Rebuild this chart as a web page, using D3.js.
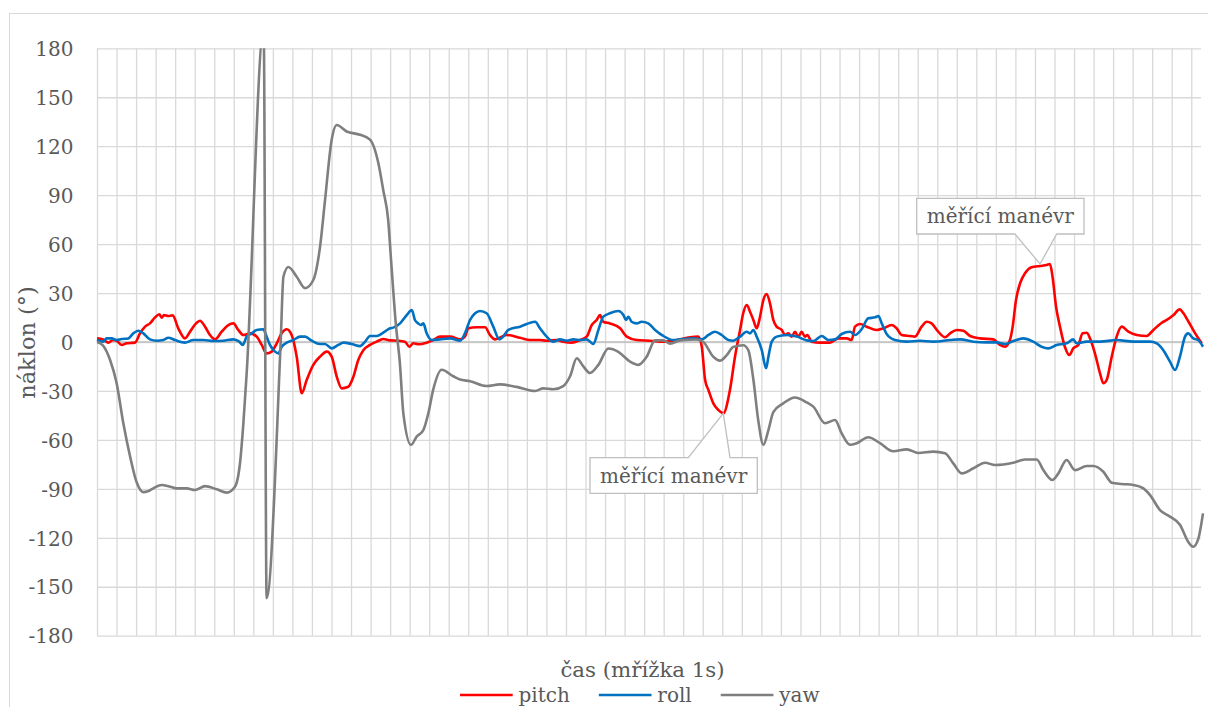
<!DOCTYPE html>
<html>
<head>
<meta charset="utf-8">
<script src="https://cdn.jsdelivr.net/npm/d3@7"></script>
<style>
    body { margin: 0; background: #fff; }
    text { font-family: 'DejaVu Serif', serif; fill: #595959; }
</style>
</head>
<body>
<svg id="chart"></svg>
<script>
// series meta
const seriesNames = ['pitch', 'roll', 'yaw']
const seriesColors = ['#ff0000', '#0070c0', '#7f7f7f']
const yTicks = [180, 150, 120, 90, 60, 30, 0, -30, -60, -90, -120, -150, -180]
const secondsGrid = d3.range(0, 57)   // mřížka 1s

// pitch (t in s, value in deg)
const pitchT = [0, 0.32, 0.58, 0.83, 1.0, 1.26, 1.52, 1.94, 2.2, 2.46, 2.71, 2.97, 3.19, 3.31, 3.43, 3.65, 3.87, 4.16, 4.5, 4.76,
    5.07, 5.27, 5.53, 5.78, 6.04, 6.38, 6.72, 6.98, 7.23, 7.49, 7.83, 8.17, 8.43, 8.68, 8.94, 9.2, 9.45, 9.71, 9.96, 10.22,
    10.48, 10.73, 11.07, 11.41, 11.76, 12.01, 12.27, 12.52, 12.86, 13.12, 13.37, 13.63, 13.97, 14.31, 14.65, 15.0, 15.42, 15.76, 15.98, 16.19,
    16.45, 16.87, 17.21, 17.55, 18.07, 18.58, 18.83, 19.0, 19.43, 19.86, 20.11, 20.37, 20.97, 21.65, 22.16, 22.67, 23.01, 23.53, 23.86, 24.29,
    24.72, 25.06, 25.32, 25.57, 25.74, 25.91, 26.25, 26.77, 27.11, 27.62, 28.3, 28.98, 29.67, 30.35, 30.77, 30.95, 31.12, 31.29, 31.54, 31.8,
    32.05, 32.39, 32.65, 32.91, 33.07, 33.25, 33.42, 33.59, 33.76, 33.93, 34.1, 34.27, 34.44, 34.61, 34.78, 35.04, 35.21, 35.38, 35.55, 35.72,
    35.89, 36.06, 36.23, 36.35, 36.57, 37.0, 37.51, 37.94, 38.37, 38.62, 38.79, 39.05, 39.39, 39.9, 40.24, 40.67, 40.92, 41.18, 41.61, 41.86,
    42.2, 42.46, 42.71, 43.05, 43.4, 43.66, 44.0, 44.34, 44.68, 45.19, 45.87, 46.21, 46.47, 46.72, 46.86, 47.03, 47.24, 47.49, 47.83, 48.26,
    48.6, 48.77, 48.9, 49.08, 49.28, 49.53, 49.76, 49.96, 50.22, 50.44, 50.65, 50.85, 51.07, 51.33, 51.5, 51.67, 51.93, 52.18, 52.44, 52.78,
    53.21, 53.72, 54.06, 54.49, 54.75, 55.09, 55.4, 55.6, 55.86, 56.2, 56.54]
const pitchV = [2.2, 1.6, -0.4, 1.2, 0.8, -1.8, -0.8, -0.4, 5.3, 9.4, 11.4, 15.1, 17, 14.9, 16.5, 15.9, 16.3, 8.4, 2.2, 6.3,
    11.4, 13, 9.4, 4.3, 1.6, 6.3, 10.4, 11.4, 7.4, 4.3, 5.3, 3.3, -1.8, -7, -5.9, -0.8, 5.3, 7.8, 4.3, -9,
    -31.4, -23.3, -14, -9, -5.9, -9, -21.3, -28.4, -27.4, -21.3, -11, -5, -1.8, 0.2, 1.8, 1.0, 0.8, 0.2, -2.9, -0.8,
    -1.4, -0.4, 1.2, 3.3, 3.3, 1.6, 3.3, 8.4, 9, 9, 4.3, 1.6, 4.3, 2.6, 1.2, 1.2, 0.8, 1.2, 0.2, -0.4,
    1.2, 3.3, 10.4, 13.5, 16.5, 12.4, 11.4, 8.4, 3.3, 1.2, 0.8, 0.2, 1.2, 2.9, 3.3, -2.9, -23.3, -29.4, -37.6, -41.7,
    -43.7, -29.4, -9, 7.4, 17.6, 22.7, 18.6, 13.5, 8.4, 15.5, 25.7, 29.4, 23.7, 13.5, 9.4, 7.4, 4.3, 5.3, 3.3, 6.3,
    3.3, 6.3, 3.3, 4.3, 0.2, -0.4, -0.4, 2.2, 2.2, 1.2, 9.4, 11, 9.4, 7.4, 8.4, 10.4, 8.4, 4.3, 3.7, 3.3,
    9.4, 12.4, 11.4, 6.3, 2.9, 5.3, 7.4, 6.9, 3.7, 2.2, 1.6, -1.8, -2.9, 1.2, 9.4, 25.7, 36, 42.1, 45.8, 46.6,
    47.2, 47.8, 40, 21.6, 9.4, -2.9, -8, -3.9, -1.8, 5.3, 5.7, 1.2, -7, -19.2, -25.3, -23.3, -9, 3.3, 9.4, 6.3,
    4.3, 3.7, 7.4, 11.8, 13.5, 16.5, 20, 17.6, 12.4, 5.3, -0.8]

// roll
const rollT = [0, 0.32, 0.49, 0.75, 1.0, 1.26, 1.6, 1.86, 2.11, 2.37, 2.71, 3.06, 3.39, 3.65, 3.99, 4.5, 4.93, 5.44, 5.95, 6.46,
    6.98, 7.28, 7.46, 7.66, 7.92, 8.17, 8.51, 8.68, 8.85, 9.11, 9.28, 9.45, 9.71, 10.05, 10.39, 10.65, 10.99, 11.41, 11.67, 12.01,
    12.35, 12.61, 13.03, 13.46, 13.72, 13.97, 14.31, 14.65, 15.0, 15.16, 15.51, 15.85, 16.11, 16.27, 16.44, 16.57, 16.7, 16.87, 17.13, 17.55,
    18.07, 18.58, 18.83, 19.09, 19.35, 19.6, 19.94, 20.28, 20.59, 20.79, 21.05, 21.65, 22.42, 22.67, 23.01, 23.35, 23.69, 24.04, 24.38, 24.72,
    25.06, 25.4, 25.66, 25.91, 26.25, 26.68, 26.94, 27.07, 27.19, 27.36, 27.62, 27.87, 28.21, 28.56, 28.98, 29.5, 29.84, 30.52, 30.95, 31.29,
    31.63, 31.97, 32.31, 32.56, 32.91, 33.25, 33.42, 33.59, 33.76, 34.02, 34.24, 34.36, 34.53, 34.78, 35.3, 35.81, 36.32, 36.66, 37.09, 37.43,
    37.77, 38.11, 38.54, 38.79, 39.13, 39.47, 39.82, 39.99, 40.16, 40.41, 40.84, 41.44, 42.12, 42.8, 43.66, 44.17, 44.85, 45.53, 46.04, 46.47,
    46.89, 47.4, 47.91, 48.34, 48.68, 49.11, 49.62, 49.96, 50.13, 50.65, 51.33, 52.18, 53.04, 53.89, 54.23, 54.57, 54.91, 55.17, 55.42, 55.68,
    55.84, 56.1, 56.35, 56.6]
const rollV = [1.2, 0.2, 2.2, 2.2, 1.2, 1.8, 2.2, 5.3, 6.9, 5.3, 1.6, 0.8, 1.2, 2.6, 1.2, -0.4, 1.2, 1.2, 0.6, 0.8,
    1.6, 0.2, -1.8, 3.3, 5.3, 7.4, 7.8, 3.3, -1.8, -5.9, -7, -2.9, -0.4, 1.2, 3.3, 3.3, 0.8, -1.2, -1.2, -3.9,
    -1.8, -0.4, -1.2, -2.5, 0.2, 3.7, 3.7, 5.7, 8.4, 8.8, 11.4, 16.5, 19.6, 13.5, 11.4, 10.4, 11.4, 5.3, 1.2, 1.6,
    2.2, 0.8, 5.3, 13.5, 17.6, 19, 17.6, 9.4, 1.6, 3.3, 7.4, 9.4, 12.4, 8.4, 3.3, 0.2, 1.6, 0.8, 1.6, 1.2,
    1.6, -1.2, 7.4, 15.5, 17.6, 19, 16.5, 13.5, 15.5, 12.4, 11.4, 12.4, 11.4, 7.4, 3.7, 1.2, 1.6, 2.2, 1.6, 4.3,
    6.3, 4.3, 1.2, 0.8, 3.3, 6.3, 5.3, 7.4, 3.3, -5, -16.1, -9, 0.2, 3.3, 4.3, 3.3, 1.0, 0.6, 3.7, 1.2,
    1.6, 4.9, 6.3, 4.3, 7.8, 14.5, 15.1, 15.9, 11.4, 4.9, 1.2, 0.2, 0.8, 0.2, 1.2, 1.6, 0.2, -0.2, -0.2, -1.2,
    0.6, 2.2, 0.2, -2.9, -3.9, -1.8, -0.8, 1.6, -0.8, 0.2, 0.2, 1.2, 0.2, 0.2, -0.8, -5, -12, -17.2, -9, 3.3,
    5.3, 2.2, 1.2, -2.9]

// yaw
const yawT = [0, 0.3, 0.67, 1.0, 1.35, 1.69, 2.03, 2.37, 2.6, 2.88, 3.31, 3.7, 4.08, 4.59, 5.01, 5.53, 6.13, 6.64, 7.06, 7.32,
    7.49, 7.66, 8.53, 8.68, 9.4, 9.54, 9.79, 10.22, 10.65, 11.07, 11.41, 11.67, 12.01, 12.27, 12.78, 13.46, 13.97, 14.4, 14.65,
    14.9, 15.05, 15.3, 15.5, 15.68, 16.07, 16.36, 16.7, 16.95, 17.21, 17.64, 18.23, 18.58, 19.09, 19.94, 20.62, 21.48, 22.42, 22.84, 23.35,
    23.86, 24.21, 24.55, 24.89, 25.23, 25.66, 26.17, 26.68, 27.28, 27.7, 28.13, 28.56, 28.98, 29.33, 29.84, 30.69, 31.03, 31.54, 31.88, 32.23,
    32.56, 33.07, 33.33, 33.59, 33.84, 34.1, 34.36, 34.61, 35.12, 35.72, 36.32, 36.66, 37.26, 37.77, 38.11, 38.54, 38.88, 39.47, 40.07, 40.75,
    41.44, 42.03, 42.8, 43.4, 43.82, 44.25, 44.85, 45.45, 45.96, 46.89, 47.49, 48.09, 48.43, 48.89, 49.2, 49.62, 50.05, 50.65, 50.99, 51.5,
    51.93, 52.44, 53.04, 53.55, 53.89, 54.4, 54.91, 55.42, 55.84, 56.1, 56.35, 56.6]
const yawV = [0, -2, -11, -25, -50, -70, -86, -92, -91.5, -89.7, -87.6, -88.5, -89.7, -89.7, -90.7, -88.3, -90.3, -92.3, -88.7, -74,
    -50, -19, 192, -157, 0, 40, 46, 40, 33, 38, 58, 87, 124, 133, 129, 127, 124, 109.5, 93,
    75, 50, 10, -13, -44, -63, -58, -54, -44, -29, -17, -21, -23, -24, -27, -26, -27.5, -30, -28.4, -29,
    -27, -21, -10, -15, -19, -14, -4, -6, -12, -14, -9, 1, 1, -1, 1, 1.5, 0, -9, -11.4, -8,
    -3, -2, -5, -23, -48, -63, -54, -43, -37.6, -34, -37, -39.6, -49.8, -47.8, -56, -63, -62, -58.4, -62, -67,
    -65.8, -68, -67.2, -68.2, -74.4, -80.5, -77.4, -74, -75.4, -74, -72, -72, -78.5, -84.6, -80.5, -72.3, -78.5, -76, -76, -79.5,
    -86.2, -87, -87.6, -89.7, -93.8, -103, -107, -112, -122.4, -125.5, -121, -105]

// callout texts and the pitch point (time) they mark
const calloutText = ['měřící manévr', 'měřící manévr']
const calloutTime = [32.05, 48.26]

class LineChart {
    constructor(_config) {
        this.config = {
            parentElement: _config.parentElement,
            containerWidth: 1208,
            containerHeight: 707,
            plot: {left: 97, right: 1203, top: 48.3, bottom: 635.7},
        }
        this.data = seriesNames.map((name, i) => {
            const ts = [pitchT, rollT, yawT][i]
            const vs = [pitchV, rollV, yawV][i]
            return {name: name, color: seriesColors[i], values: ts.map((t, j) => ({t: t, v: vs[j]}))}
        })
        this.initVis()
    }

    initVis() {
        let vis = this
        const p = vis.config.plot

        vis.svg = d3.select(vis.config.parentElement)
            .attr('width', vis.config.containerWidth)
            .attr('height', vis.config.containerHeight)

        // chart frame
        vis.svg.append('rect')
            .attr('x', 9.5).attr('y', 13.5)
            .attr('width', 1300).attr('height', 800)
            .attr('fill', '#fff')
            .attr('stroke', '#d9d9d9')

        vis.xScale = d3.scaleLinear().domain([0, 56.6]).range([p.left, p.right])
        vis.yScale = d3.scaleLinear().domain([-180, 180]).range([p.bottom, p.top])

        vis.renderGrid()
        vis.renderVis()
        vis.renderCallouts()
        vis.renderLabels()
    }

    renderGrid() {
        let vis = this
        const p = vis.config.plot

        const yGrid = vis.svg.append('g')
            .attr('transform', `translate(${p.left},0)`)
            .call(d3.axisLeft(vis.yScale).tickValues(yTicks).tickSize(-(1201 - p.left)).tickFormat(''))
        yGrid.select('.domain').remove()
        yGrid.selectAll('line')
            .attr('stroke', '#d9d9d9')
            .attr('stroke-width', 1.3)

        const xGrid = vis.svg.append('g')
            .attr('transform', `translate(0,${p.bottom})`)
            .call(d3.axisBottom(vis.xScale).tickValues(secondsGrid).tickSize(-(p.bottom - p.top)).tickFormat(''))
        xGrid.select('.domain').remove()
        xGrid.selectAll('line')
            .attr('stroke', '#d9d9d9')
            .attr('stroke-width', 1.3)

        // zero line (category axis) over the verticals
        vis.svg.append('line')
            .attr('x1', p.left).attr('x2', 1201)
            .attr('y1', vis.yScale(0)).attr('y2', vis.yScale(0))
            .attr('stroke', '#bfbfbf').attr('stroke-width', 1.3)

        // tick labels, plain hyphen for negatives
        const yLabels = vis.svg.append('g')
            .attr('transform', `translate(${p.left},0)`)
            .call(d3.axisLeft(vis.yScale).tickValues(yTicks).tickSize(0).tickPadding(23.5)
                .tickFormat(d => String(d)))
        yLabels.select('.domain').remove()
        yLabels.selectAll('text')
            .attr('fill', '#595959')
            .style('font-family', "'DejaVu Serif', serif")
            .style('font-size', '20px')
            .attr('dy', '0.36em')
    }

    renderVis() {
        let vis = this
        const p = vis.config.plot

        vis.svg.append('clipPath').attr('id', 'plot-clip')
            .append('rect')
            .attr('x', p.left - 3).attr('y', p.top)
            .attr('width', p.right - p.left + 6).attr('height', p.bottom - p.top)

        vis.line = d3.line()
            .x(d => vis.xScale(d.t))
            .y(d => vis.yScale(d.v))
            .curve(d3.curveMonotoneX)

        vis.svg.append('g')
            .attr('clip-path', 'url(#plot-clip)')
            .selectAll('.series')
            .data(vis.data)
            .join('path')
            .attr('class', 'series')
            .attr('fill', 'none')
            .attr('stroke', d => d.color)
            .attr('stroke-width', 2.6)
            .attr('stroke-linejoin', 'round')
            .attr('d', d => vis.line(d.values))
    }

    renderCallouts() {
        let vis = this
        const pitch = vis.data[0].values
        // box outline with an opening (g0..g1) for the pointer
        const boxes = [
            {x0: 590, y0: 457.7, x1: 757.3, y1: 493.3, g0: 688.3, g1: 730, side: 'top'},
            {x0: 916.7, y0: 198.3, x1: 1084, y1: 234, g0: 1015, g1: 1056.7, side: 'bottom'},
        ]

        boxes.forEach((b, i) => {
            const pt = pitch.find(d => d.t === calloutTime[i])
            const tx = vis.xScale(pt.t)
            const ty = vis.yScale(pt.v) + (b.side === 'top' ? 0 : -2)
            let path
            if (b.side === 'top') {
                path = `M${b.x0},${b.y0} L${b.g0},${b.y0} L${tx},${ty} L${b.g1},${b.y0} L${b.x1},${b.y0} L${b.x1},${b.y1} L${b.x0},${b.y1} Z`
            } else {
                path = `M${b.x0},${b.y0} L${b.x1},${b.y0} L${b.x1},${b.y1} L${b.g1},${b.y1} L${tx},${ty} L${b.g0},${b.y1} L${b.x0},${b.y1} Z`
            }
            vis.svg.append('path')
                .attr('d', path)
                .attr('fill', '#fff')
                .attr('stroke', '#bfbfbf')
                .attr('stroke-width', 1.3)
            vis.svg.append('text')
                .text(calloutText[i])
                .attr('x', (b.x0 + b.x1) / 2)
                .attr('y', (b.y0 + b.y1) / 2)
                .attr('dy', '0.35em')
                .style('text-anchor', 'middle')
                .style('font-size', '20px')
        })
    }

    renderLabels() {
        let vis = this

        vis.svg.append('text')
            .text('náklon (°)')
            .attr('transform', 'translate(34.5,342.5) rotate(-90)')
            .style('text-anchor', 'middle')
            .style('font-size', '22.5px')

        vis.svg.append('text')
            .text('čas (mřížka 1s)')
            .attr('x', 642.5)
            .attr('y', 676.5)
            .style('text-anchor', 'middle')
            .style('font-size', '21.3px')

        // legend
        const legend = vis.svg.append('g').attr('class', 'legend')
        let x = 460
        vis.data.forEach(d => {
            legend.append('line')
                .attr('x1', x).attr('x2', x + 52.7)
                .attr('y1', 695).attr('y2', 695)
                .attr('stroke', d.color)
                .attr('stroke-width', 2.6)
            const t = legend.append('text')
                .text(d.name)
                .attr('x', x + 58.5)
                .attr('y', 702)
                .style('font-size', '20px')
            x += 58.5 + t.node().getComputedTextLength() + 29
        })
    }
}

new LineChart({parentElement: '#chart'})
</script>
</body>
</html>
